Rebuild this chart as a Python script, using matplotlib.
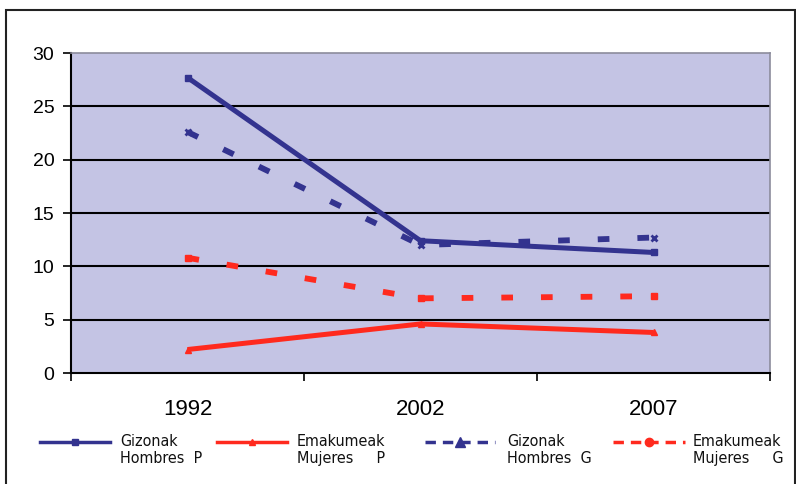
import matplotlib.pyplot as plt
import matplotlib.patches as mpatches
from matplotlib.lines import Line2D
import numpy as np

years = ["1992", "2002", "2007"]
gizonak_p = [27.7, 12.4, 11.3]
emakumeak_p = [2.2, 4.6, 3.8]
gizonak_g = [22.6, 12.0, 12.7]
emakumeak_g = [10.8, 7.0, 7.2]

labels = ["Gizonak\nHombres  P", "Emakumeak\nMujeres     P",
          "Gizonak\nHombres  G", "Emakumeak\nMujeres     G"]

NAVY = "#33338f"
RED = "#ff2a1e"

plt.rcParams["font.family"] = ["Liberation Sans", "DejaVu Sans"]

W, H = 796, 484
fig = plt.figure(figsize=(W / 100, H / 100), dpi=100)
ax = fig.add_axes([71 / W, 1 - 373 / H, (770 - 71) / W, (373 - 53) / H])
ax.set_facecolor("#c4c4e4")

x = np.arange(len(years))
ax.plot(x, gizonak_p, color=NAVY, lw=3.6, marker="s", ms=5, solid_capstyle="butt", zorder=4)
ax.plot(x, emakumeak_p, color=RED, lw=3.6, marker="^", ms=5, solid_capstyle="butt", zorder=4)
ax.plot(x, gizonak_g, color=NAVY, lw=4.2, ls=(0, (2.0, 4.8)), marker="x", ms=5, mew=2, zorder=3)
ax.plot(x, emakumeak_g, color=RED, lw=4.2, ls=(0, (2.0, 4.8)), marker="s", ms=5, zorder=3)

ax.set_xlim(-0.5, 2.5)
ax.set_ylim(0, 30)
ax.set_yticks(range(0, 31, 5))
ax.set_xticks(x)
ax.set_xticklabels(years, fontsize=16)
ax.set_xticks([-0.5, 0.5, 1.5, 2.5], minor=True)
ax.tick_params(axis="x", which="major", length=0, pad=19)
ax.tick_params(axis="x", which="minor", length=6, width=1.2, color="black", direction="out")
ax.tick_params(axis="y", length=6, width=1.2, pad=6, labelsize=14)

# black horizontal gridlines, the top edge stays a grey frame line
for v in range(5, 30, 5):
    ax.axhline(v, color="black", lw=1.5, zorder=1)

for side in ("top", "right"):
    ax.spines[side].set_color("#8c8c9c")
    ax.spines[side].set_linewidth(1.2)
for side in ("left", "bottom"):
    ax.spines[side].set_color("black")
    ax.spines[side].set_linewidth(1.5)

# legend drawn by hand: handle segment + two-line label for each series
handles = [
    dict(color=NAVY, lw=2.5, marker="s", ms=5),
    dict(color=RED, lw=2.5, marker="^", ms=4),
    dict(color=NAVY, lw=2.5, ls=(0, (3, 2)), marker="^", ms=7),
    dict(color=RED, lw=2.5, ls=(0, (3, 2)), marker="o", ms=6),
]
slots = [(40, 110, 120), (217, 287, 297), (425, 495, 507), (613, 685, 693)]
y_line = 1 - 442 / H
for style, (x0, x1, xt), text in zip(handles, slots, labels):
    fig.add_artist(Line2D([x0 / W, x1 / W], [y_line, y_line], transform=fig.transFigure,
                          markevery=[], **style))
    fig.add_artist(Line2D([(x0 + x1) / 2 / W], [y_line], transform=fig.transFigure,
                          color=style["color"], marker=style["marker"], ms=style["ms"], ls="none"))
    fig.text(xt / W, 1 - 434 / H, text, ha="left", va="top", fontsize=11.5,
             family="DejaVu Sans", stretch="condensed", linespacing=1.15, color="#111111")

# outer frame around the whole chart
fig.patches.append(mpatches.Rectangle((6 / W, -0.02), (795 - 6) / W, 1.02 - 10 / H,
                                      transform=fig.transFigure, fill=False,
                                      edgecolor="#222222", lw=1.5))

fig.savefig("out.png", dpi=100)
